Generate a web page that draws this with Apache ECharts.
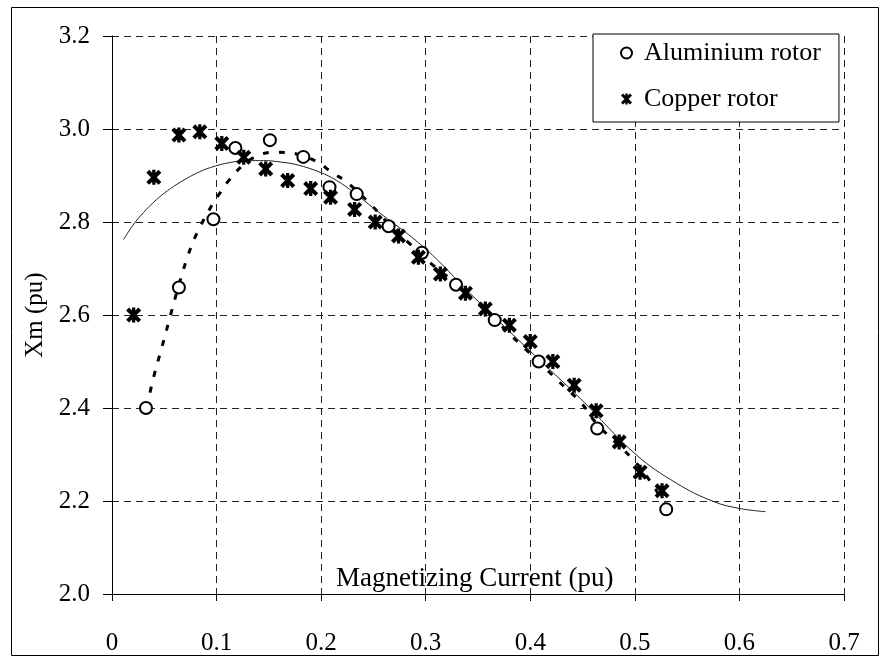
<!DOCTYPE html>
<html>
<head>
<meta charset="utf-8">
<script src="https://cdn.jsdelivr.net/npm/echarts@6/dist/echarts.min.js"></script>
<style>html,body{margin:0;padding:0;background:#fff;}#c{width:885px;height:662px;}</style>
</head>
<body>
<div id="c"></div>
<script>
// Aluminium rotor measurements
const alX = [0.0325, 0.064, 0.097, 0.118, 0.151, 0.183, 0.208, 0.234, 0.2645, 0.2964, 0.329, 0.366, 0.408, 0.464, 0.530];
const alY = [2.400, 2.659, 2.806, 2.959, 2.976, 2.940, 2.875, 2.860, 2.791, 2.734, 2.665, 2.589, 2.500, 2.356, 2.182];
// Copper rotor measurements
const cuX = [0.0207, 0.040, 0.064, 0.084, 0.105, 0.126, 0.147, 0.168, 0.190, 0.209, 0.232, 0.2517, 0.274, 0.293, 0.314, 0.338, 0.357, 0.380, 0.400, 0.4216, 0.442, 0.463, 0.485, 0.505, 0.526];
const cuY = [2.600, 2.896, 2.987, 2.994, 2.969, 2.939, 2.914, 2.889, 2.872, 2.853, 2.827, 2.800, 2.770, 2.724, 2.688, 2.647, 2.613, 2.578, 2.543, 2.500, 2.449, 2.394, 2.327, 2.262, 2.222];
// Dotted trend curve (aluminium)
const alFitX = [0.033, 0.040, 0.048, 0.056, 0.064, 0.073, 0.081, 0.096, 0.104, 0.112, 0.125, 0.137, 0.153, 0.169, 0.185, 0.198, 0.210, 0.225, 0.249, 0.265, 0.282, 0.304, 0.330, 0.366, 0.390, 0.408, 0.425, 0.449, 0.464, 0.4995, 0.519, 0.530];
const alFitY = [2.400, 2.468, 2.533, 2.600, 2.665, 2.730, 2.775, 2.838, 2.865, 2.890, 2.922, 2.940, 2.950, 2.949, 2.940, 2.927, 2.907, 2.885, 2.834, 2.795, 2.759, 2.713, 2.665, 2.590, 2.538, 2.500, 2.462, 2.410, 2.365, 2.286, 2.228, 2.185];
// Thin solid trend curve (copper)
const cuFitX = [0.011, 0.020, 0.030, 0.040, 0.050, 0.062, 0.080, 0.094, 0.113, 0.130, 0.145, 0.161, 0.177, 0.199, 0.215, 0.231, 0.250, 0.300, 0.343, 0.400, 0.448, 0.501, 0.540, 0.575, 0.600, 0.625];
const cuFitY = [2.762, 2.793, 2.820, 2.843, 2.862, 2.881, 2.904, 2.917, 2.928, 2.932, 2.932, 2.929, 2.923, 2.907, 2.889, 2.864, 2.830, 2.742, 2.645, 2.522, 2.420, 2.300, 2.238, 2.199, 2.184, 2.177];
// Axis ticks
const xTicks = [0, 0.1, 0.2, 0.3, 0.4, 0.5, 0.6, 0.7];
const yTicks = [2.0, 2.2, 2.4, 2.6, 2.8, 3.0, 3.2];

const pairs = (xs, ys) => xs.map((x, i) => [x, ys[i]]);
const FONT = 'Liberation Serif';
const FS = 25;
const star = 'path://M0,2.3 L2.3,0 L12,9.7 L9.7,12 Z M9.7,0 L12,2.3 L2.3,12 L0,9.7 Z M4.7,0 L7.3,0 L7.3,12 L4.7,12 Z';

const chart = echarts.init(document.getElementById('c'), null, {renderer: 'canvas'});
chart.setOption({
  backgroundColor: '#fff',
  animation: false,
  grid: {left: 112, right: 41, top: 36, bottom: 68, containLabel: false},
  graphic: [
    {type: 'rect', shape: {x: 11.5, y: 7.5, width: 867, height: 648}, style: {fill: 'none', stroke: '#000', lineWidth: 1}, silent: true, z: -1},
    {type: 'text', left: 336, top: 565, style: {text: 'Magnetizing Current (pu)', font: '27px "Liberation Serif"', fill: '#000'}, z: 10}
  ],
  legend: {
    orient: 'vertical',
    left: 593, top: 34,
    padding: [6, 18, 10, 27],
    itemWidth: 11, itemHeight: 11,
    itemGap: 20,
    backgroundColor: '#fff',
    borderColor: '#000', borderWidth: 1, borderRadius: 0,
    textStyle: {fontFamily: FONT, fontSize: 26, color: '#000', padding: [0, 0, 0, 7]},
    data: [
      {name: 'Aluminium rotor', icon: 'emptyCircle', itemStyle: {borderWidth: 2.2, opacity: 1}},
      {name: 'Copper rotor', icon: star, itemStyle: {opacity: 1}}
    ]
  },
  xAxis: {
    type: 'value', min: 0, max: 0.7, interval: 0.1,
    axisLine: {onZero: false, lineStyle: {color: '#000', width: 1}},
    axisTick: {show: true, inside: false, length: 7, lineStyle: {color: '#000'}},
    axisLabel: {margin: 37, fontFamily: FONT, fontSize: FS, color: '#000',
      formatter: v => { const t = xTicks.find(k => Math.abs(k - v) < 1e-9); return t === 0 ? '0' : String(+t.toFixed(1)); }},
    splitLine: {show: true, lineStyle: {color: '#222', width: 1, type: [7, 5]}}
  },
  yAxis: {
    type: 'value', min: 2.0, max: 3.2, interval: 0.2,
    name: 'Xm (pu)', nameLocation: 'middle', nameGap: 62,
    nameTextStyle: {fontFamily: FONT, fontSize: FS, color: '#000'},
    axisLine: {show: true, onZero: false, lineStyle: {color: '#000', width: 1}},
    axisTick: {show: true, inside: false, length: 9, lineStyle: {color: '#000'}},
    axisLabel: {margin: 22, fontFamily: FONT, fontSize: FS, color: '#000',
      formatter: v => { const t = yTicks.find(k => Math.abs(k - v) < 1e-9); return t.toFixed(1); }},
    splitLine: {show: true, lineStyle: {color: '#222', width: 1, type: [7, 5]}}
  },
  series: [
    {name: 'Aluminium fit', type: 'line', data: pairs(alFitX, alFitY), smooth: 0.4, symbol: 'none',
      lineStyle: {color: '#000', width: 3, type: [6, 10], cap: 'butt'}, z: 2, silent: true},
    {name: 'Copper fit', type: 'line', data: pairs(cuFitX, cuFitY), smooth: 0.4, symbol: 'none',
      lineStyle: {color: '#222', width: 1, type: 'solid'}, z: 2, silent: true},
    {name: 'Aluminium rotor', type: 'scatter', data: pairs(alX, alY), symbol: 'emptyCircle', symbolSize: 12,
      itemStyle: {color: '#000', borderColor: '#000', borderWidth: 2.6, opacity: 1}, z: 4},
    {name: 'Copper rotor', type: 'scatter', data: pairs(cuX, cuY), symbol: star, symbolSize: 15,
      itemStyle: {color: '#000', opacity: 1}, z: 5}
  ]
});
</script>
</body>
</html>
